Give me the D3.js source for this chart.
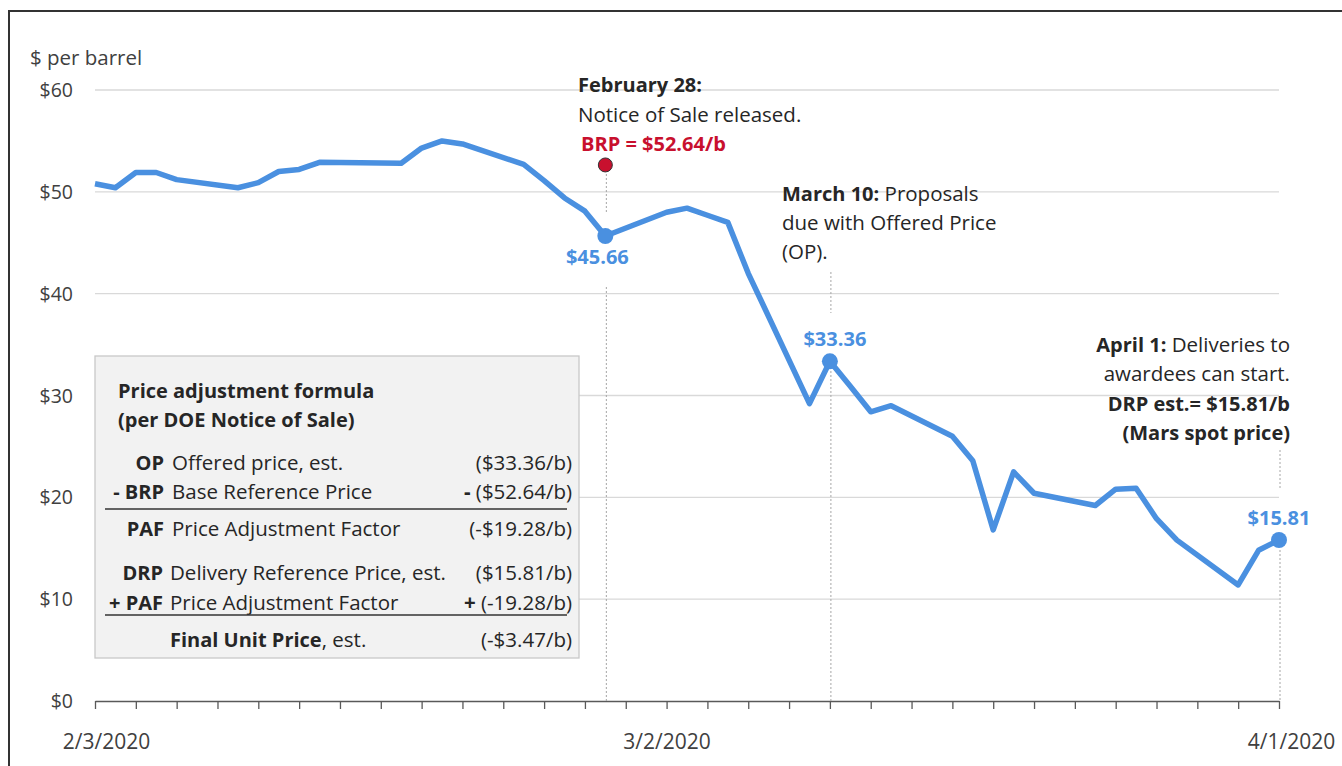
<!DOCTYPE html>
<html>
<head>
<meta charset="utf-8">
<script src="https://cdn.jsdelivr.net/npm/d3@7"></script>
<style>
  body { margin: 0; background: #fff; }
  svg { display: block; font-family: "Open Sans", Lato, sans-serif; }
</style>
</head>
<body>
<svg id="chart" width="1342" height="766"></svg>
<script>
// trading days (weekends and 2/17 holiday skipped) and Mars crude price, $/b
const dates = [
  '2020-02-03', '2020-02-04', '2020-02-05', '2020-02-06', '2020-02-07',
  '2020-02-10', '2020-02-11', '2020-02-12', '2020-02-13', '2020-02-14',
  '2020-02-18', '2020-02-19', '2020-02-20', '2020-02-21',
  '2020-02-24', '2020-02-25', '2020-02-26', '2020-02-27', '2020-02-28',
  '2020-03-02', '2020-03-03', '2020-03-04', '2020-03-05', '2020-03-06',
  '2020-03-09', '2020-03-10', '2020-03-11', '2020-03-12', '2020-03-13',
  '2020-03-16', '2020-03-17', '2020-03-18', '2020-03-19', '2020-03-20',
  '2020-03-23', '2020-03-24', '2020-03-25', '2020-03-26', '2020-03-27',
  '2020-03-30', '2020-03-31', '2020-04-01',
];
const prices = [
  50.8, 50.4, 51.9, 51.9, 51.2,
  50.4, 50.9, 52.0, 52.2, 52.9,
  52.8, 54.3, 55.0, 54.7,
  52.7, 51.1, 49.4, 48.1, 45.66,
  48.0, 48.4, 47.7, 47.0, 42.0,
  29.2, 33.36, 30.9, 28.4, 29.0,
  26.0, 23.6, 16.8, 22.5, 20.4,
  19.2, 20.8, 20.9, 17.9, 15.8,
  11.4, 14.8, 15.81,
];
const yTicks = [0, 10, 20, 30, 40, 50, 60];
const xLabels = ['2020-02-03', '2020-03-02', '2020-04-01'];

// highlighted points: date, value
const markDates = ['2020-02-28', '2020-03-10', '2020-04-01'];
const markLabels = ['$45.66', '$33.36', '$15.81'];
const brpDate = '2020-02-28';
const brpValue = 52.64;

// formula box rows: [code, description, value]
const formulaRows = [
  ['OP', 'Offered price, est.', '($33.36/b)'],
  ['- BRP', 'Base Reference Price', '- ($52.64/b)'],
  ['PAF', 'Price Adjustment Factor', '(-$19.28/b)'],
  ['DRP', 'Delivery Reference Price, est.', '($15.81/b)'],
  ['+ PAF', 'Price Adjustment Factor', '+ (-19.28/b)'],
];

const parse = d3.timeParse('%Y-%m-%d');
const data = dates.map((d, i) => ({ date: parse(d), v: prices[i] }));
const blue = '#4a90e0';
const red = '#c8102e';
const txt = '#262626';
const fs = 20.5;   // regular text
const fb = 20;     // bold text

const svg = d3.select('#chart');

// outer frame (left + top edges visible)
svg.append('path')
  .attr('d', 'M9,766 V11 H1342')
  .attr('fill', 'none')
  .attr('stroke', '#333')
  .attr('stroke-width', 2);

const x = d3.scaleTime()
  .domain([parse('2020-02-03'), parse('2020-04-01')])
  .range([95, 1279]);
const y = d3.scaleLinear().domain([0, 60]).range([701, 90]);

// gridlines
svg.append('g')
  .selectAll('line')
  .data(yTicks.filter(t => t > 0))
  .join('line')
  .attr('x1', 95).attr('x2', 1279)
  .attr('y1', d => y(d)).attr('y2', d => y(d))
  .attr('stroke', '#d9d9d9')
  .attr('stroke-width', 1.3);

// y axis labels
svg.append('g')
  .selectAll('text')
  .data(yTicks)
  .join('text')
  .attr('x', 73)
  .attr('y', d => y(d) + 7)
  .attr('text-anchor', 'end')
  .attr('font-size', 19.5)
  .attr('fill', '#404040')
  .text(d => `$${d}`);

svg.append('text')
  .attr('x', 30).attr('y', 65)
  .attr('font-size', fs)
  .attr('fill', '#404040')
  .text('$ per barrel');

// x axis: ticks every 2 days, labels only on three dates
const tickDates = d3.timeDay.range(parse('2020-02-03'), parse('2020-04-02'), 2);
const labelSet = new Set(xLabels);
const fmtKey = d3.timeFormat('%Y-%m-%d');
const xAxis = svg.append('g')
  .attr('transform', `translate(0,${y(0)})`)
  .call(d3.axisBottom(x)
    .tickValues(tickDates)
    .tickSize(8)
    .tickSizeOuter(0)
    .tickPadding(25)
    .tickFormat(d => labelSet.has(fmtKey(d)) ? d3.timeFormat('%-m/%-d/%Y')(d) : ''));
xAxis.select('.domain').attr('stroke', '#595959').attr('stroke-width', 1.4);
xAxis.selectAll('.tick line').attr('stroke', '#595959').attr('stroke-width', 1.3);
xAxis.selectAll('.tick text')
  .attr('font-size', 21)
  .attr('font-family', '"Open Sans", sans-serif')
  .attr('fill', '#404040')
  .attr('dx', d => fmtKey(d) === '2020-02-03' ? 11 : fmtKey(d) === '2020-04-01' ? 12 : 0);

// dotted leader lines: [date, [y0,y1], [y0,y1]]
const leaders = [
  ['2020-02-28', [174, 213], [287, 701]],
  ['2020-03-10', [272, 313], [371, 701]],
  ['2020-04-01', [450, 490], [550, 701]],
];
leaders.forEach(([d, a, b]) => {
  [a, b].forEach(seg => {
    svg.append('line')
      .attr('x1', x(parse(d)) + 1).attr('x2', x(parse(d)) + 1)
      .attr('y1', seg[0]).attr('y2', seg[1])
      .attr('stroke', '#a6a6a6')
      .attr('stroke-width', 1)
      .attr('stroke-dasharray', '2,2');
  });
});

// the price line
svg.append('path')
  .datum(data)
  .attr('fill', 'none')
  .attr('stroke', blue)
  .attr('stroke-width', 5.5)
  .attr('stroke-linejoin', 'round')
  .attr('d', d3.line().x(d => x(d.date)).y(d => y(d.v)));

// highlighted markers
const marks = markDates.map(d => data.find(p => fmtKey(p.date) === d));
svg.append('g')
  .selectAll('circle')
  .data(marks)
  .join('circle')
  .attr('cx', d => x(d.date))
  .attr('cy', d => y(d.v))
  .attr('r', 8)
  .attr('fill', blue);

const markLabelOffsets = [[-8, 28], [5, -15], [0, -15]];
svg.append('g')
  .selectAll('text')
  .data(marks)
  .join('text')
  .attr('x', (d, i) => x(d.date) + markLabelOffsets[i][0])
  .attr('y', (d, i) => y(d.v) + markLabelOffsets[i][1])
  .attr('text-anchor', 'middle')
  .attr('font-size', fb)
  .attr('font-weight', 'bold')
  .attr('fill', blue)
  .text((d, i) => markLabels[i]);

// BRP point
svg.append('circle')
  .attr('cx', x(parse(brpDate)))
  .attr('cy', y(brpValue))
  .attr('r', 7)
  .attr('fill', red)
  .attr('stroke', '#333')
  .attr('stroke-width', 1);

// annotation helper: each line is a list of [text, bold]
function note(xPos, yPos, anchor, lines, lh) {
  const t = svg.append('text')
    .attr('text-anchor', anchor)
    .attr('font-size', fs)
    .attr('fill', txt);
  lines.forEach((parts, i) => {
    parts.forEach(([s, bold], j) => {
      const ts = t.append('tspan').text(s);
      if (j === 0) ts.attr('x', xPos).attr('y', yPos + i * lh);
      if (bold) ts.attr('font-weight', 'bold').attr('font-size', fb);
    });
  });
}

note(578, 92, 'start', [
  [['February 28:', true]],
  [['Notice of Sale released.', false]],
], 30);
svg.append('text')
  .attr('x', 581).attr('y', 151)
  .attr('font-size', fb)
  .attr('font-weight', 'bold')
  .attr('fill', red)
  .text('BRP = $52.64/b');

note(782, 201, 'start', [
  [['March 10:', true], [' Proposals', false]],
  [['due with Offered Price', false]],
  [['(OP).', false]],
], 29);

note(1290, 352, 'end', [
  [['April 1:', true], [' Deliveries to', false]],
  [['awardees can start.', false]],
  [['DRP est.= $15.81/b', true]],
  [['(Mars spot price)', true]],
], 29.3);

// formula box
const box = svg.append('g');
box.append('rect')
  .attr('x', 95).attr('y', 356)
  .attr('width', 484).attr('height', 302)
  .attr('fill', '#f2f2f2')
  .attr('stroke', '#c8c8c8')
  .attr('stroke-width', 1.3);
box.append('text')
  .attr('x', 118).attr('y', 398)
  .attr('font-size', fb).attr('font-weight', 'bold').attr('fill', txt)
  .text('Price adjustment formula');
box.append('text')
  .attr('x', 118).attr('y', 427)
  .attr('font-size', fb).attr('font-weight', 'bold').attr('fill', txt)
  .text('(per DOE Notice of Sale)');

const rowY = [470, 499, 536, 580, 610];
const codeX = [164, 164, 164, 163, 163];
const descX = [172, 172, 172, 170, 170];
formulaRows.forEach(([code, desc, val], i) => {
  box.append('text')
    .attr('x', codeX[i]).attr('y', rowY[i])
    .attr('text-anchor', 'end')
    .attr('font-size', fb).attr('font-weight', 'bold').attr('fill', txt)
    .text(code);
  box.append('text')
    .attr('x', descX[i]).attr('y', rowY[i])
    .attr('font-size', fs).attr('fill', txt)
    .text(desc);
  const vt = box.append('text')
    .attr('x', 572).attr('y', rowY[i])
    .attr('text-anchor', 'end')
    .attr('font-size', fs).attr('fill', txt);
  const m = val.match(/^([-+] )(.*)$/);
  if (m) {
    vt.append('tspan').attr('font-weight', 'bold').text(m[1]);
    vt.append('tspan').text(m[2]);
  } else {
    vt.text(val);
  }
});
[509, 615].forEach(ly => {
  box.append('line')
    .attr('x1', 105).attr('x2', 567)
    .attr('y1', ly).attr('y2', ly)
    .attr('stroke', '#333')
    .attr('stroke-width', 1.3);
});
const fin = box.append('text')
  .attr('x', 170).attr('y', 647)
  .attr('font-size', fs).attr('fill', txt);
fin.append('tspan').attr('font-weight', 'bold').attr('font-size', fb).text('Final Unit Price');
fin.append('tspan').text(', est.');
box.append('text')
  .attr('x', 572).attr('y', 647)
  .attr('text-anchor', 'end')
  .attr('font-size', fs).attr('fill', txt)
  .text('(-$3.47/b)');
</script>
</body>
</html>
